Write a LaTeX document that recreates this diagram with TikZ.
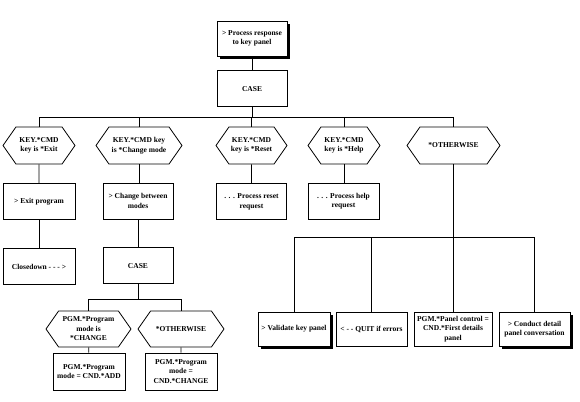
\documentclass[tikz,border=0pt]{standalone}
\usepackage{fontspec}
\setmainfont{Liberation Serif}
\usepackage{tikz}
\usetikzlibrary{shapes.symbols, shadows, positioning, calc}
\tikzset{
	procbox/.style ={rectangle, draw=black, line width=0.8pt, minimum width=72pt, minimum height=36pt, align=center, inner sep=1pt, fill=white},
	condhex/.style ={signal, signal to=west and east, signal pointer angle=110, draw=black, line width=0.8pt, minimum width=72pt, minimum height=37pt, align=center, inner sep=1pt, fill=white},
	shadowbox/.style={procbox, drop shadow={shadow xshift=3pt, shadow yshift=-3pt, fill=black, opacity=1}},
	link/.style     ={line width=0.8pt},
}

\begin{document}
\begin{tikzpicture}[x=1pt, y=-1pt, font=\fontsize{7.5}{9.5}\selectfont\bfseries]
			\useasboundingbox (0,0) rectangle (580,401);
			\node[shadowbox, minimum width=70pt, minimum height=35pt] (top) at (252,38.5) {> Process response\\to key panel};
			\node[procbox, minimum width=70pt, below=14pt of top] (case) {CASE};
			% branches of the first CASE
			\node[condhex] (hexit) at (39,145.5) {KEY.*CMD\\key is *Exit};
			\node[condhex, minimum width=86pt] (hmode) at (139,145.5) {KEY.*CMD key\\is *Change mode};
			\node[condhex, minimum width=71pt] (hreset) at (251.5,145.5) {KEY.*CMD\\key is *Reset};
			\node[condhex] (hhelp) at (344,145.5) {KEY.*CMD\\key is *Help};
			\node[condhex, minimum width=93pt] (hother) at (453.5,145.5) {*OTHERWISE};
			\node[procbox, below=19pt of hexit] (exit) {> Exit program};
			\node[procbox, minimum width=70pt] (change) at (138,201) {> Change between\\modes};
			\node[procbox, minimum width=70pt, below=19pt of hreset] (reset) {. . . Process reset\\request};
			\node[procbox, minimum width=71pt] (help) at (343.5,201) {. . . Process help\\request};
			\node[procbox, below=28pt of exit] (close) {Closedown - - - >};
			\node[procbox, minimum width=70pt, below=28pt of change] (mcase) {CASE};
			% second CASE
			\node[condhex, minimum width=85pt, minimum height=36pt] (hpgm) at (88.5,329) {PGM.*Program\\mode is\\*CHANGE};
			\node[condhex, minimum width=86pt, minimum height=36pt] (hpoth) at (181,329) {*OTHERWISE};
			\node[procbox, minimum height=37pt] (add) at (89,371.5) {PGM.*Program\\mode = CND.*ADD};
			\node[procbox, minimum height=37pt] (chg) at (181,371.5) {PGM.*Program\\mode =\\CND.*CHANGE};
			% otherwise sequence
			\node[shadowbox, minimum height=34pt] (valid) at (294,329) {> Validate key panel};
			\node[procbox, minimum width=71pt, minimum height=34pt] (quit) at (371.5,329) {< - - QUIT if errors};
			\node[procbox, minimum width=78pt, minimum height=34pt] (panel) at (453,329) {PGM.*Panel control =\\CND.*First details\\panel};
			\node[shadowbox, minimum width=71pt, minimum height=34pt] (conv) at (534.5,329) {> Conduct detail\\panel conversation};
			\draw[link] (top) -- (case);
			\foreach \h in {hexit, hmode, hreset, hhelp, hother}
				\draw[link] (case.south) -- ++(0,10) -| (\h.north);
			\draw[link] (hexit) -- (exit);
			\draw[link] (exit) -- (close);
			\draw[link] (hmode.south) -- (change.north -| hmode.south);
			\draw[link] (change) -- (mcase);
			\draw[link] (hreset) -- (reset);
			\draw[link] (hhelp.south) -- (help.north -| hhelp.south);
			\foreach \h in {hpgm, hpoth}
				\draw[link] (mcase.south) -- ++(0,15) -| (\h.north);
			\draw[link] (hpgm) -- (add);
			\draw[link] (hpoth) -- (chg);
			\foreach \b in {valid, quit, panel, conv}
				\draw[link] (hother.south) -- ++(0,73) -| (\b.north);
		\end{tikzpicture}
\end{document}
